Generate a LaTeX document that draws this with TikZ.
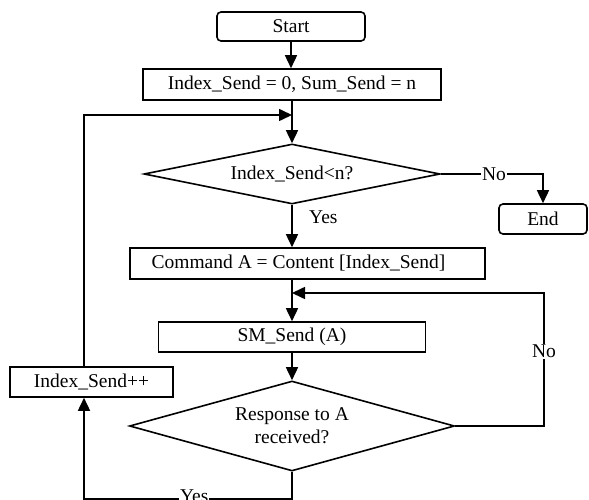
\documentclass[tikz,border=0pt]{standalone}
\usepackage{fontspec}
\setmainfont{Liberation Serif}
\usetikzlibrary{shapes.geometric,arrows.meta}
\begin{document}
\begin{tikzpicture}[x=1pt,y=-1pt,
  every node/.style={font=\fontsize{19.5}{23}\selectfont},
  proc/.style={draw,line width=1.6pt,rectangle,inner sep=0pt},
  term/.style={draw,line width=1.6pt,rectangle,rounded corners=4pt,inner sep=0pt},
  dec/.style={draw,line width=1.6pt,diamond,inner sep=0pt,align=center},
  conn/.style={line width=1.6pt},
  arr/.style={conn,-{Triangle[length=13pt,width=12pt]}},
  lbl/.style={fill=white,inner sep=1pt}]
\useasboundingbox (0,0) rectangle (589,500);
\node[term,minimum width=148pt,minimum height=29pt] (start) at (291,26.5) {Start};
\node[proc,minimum width=298pt,minimum height=31pt] (init) at (292,84.5) {Index\_Send = 0, Sum\_Send = n};
\node[dec,minimum width=296pt,minimum height=60pt,shape aspect=5] (d1) at (292,174) {Index\_Send<n?};
\node[term,minimum width=88pt,minimum height=30pt] (end) at (543,219) {End};
\node[proc,minimum width=355pt,minimum height=31pt] (cmd) at (307.5,263.5) {Command A = Content [Index\_Send]\hspace*{18pt}};
\node[proc,minimum width=267pt,minimum height=30pt] (sm) at (292,337) {SM\_Send (A)};
\node[dec,minimum width=325pt,minimum height=90pt,shape aspect=3.6] (d2) at (292,426) {Response to A\\received?};
\node[proc,minimum width=163pt,minimum height=30pt] (incr) at (91.5,382) {Index\_Send++};
\coordinate (lx) at (84,0);
\coordinate (j1) at (292,115);
\coordinate (j2) at (292,293);
\coordinate (r2) at (544,426);
\coordinate (b2) at (292,499);
% main flow
\draw[arr] (start.south) -- (start.south |- init.north);
\draw[arr] (init.south) -- (d1.north);
\draw[arr] (d1.east) -| node[lbl,pos=0.26]{No} (end.north);
\draw[arr] (d1.south) -- node[pos=0.3,anchor=west,xshift=13pt]{Yes} (d1.south |- cmd.north);
\draw[arr] (sm.north |- cmd.south) -- (sm.north);
\draw[arr] (sm.south) -- (d2.north);
% No loop
\draw[arr] (d2.east) -- (r2) -- node[lbl,pos=0.56]{No} (r2 |- j2) -- (j2);
% Yes loop
\draw[arr] (d2.south) -- (b2) -- node[lbl,pos=0.47,yshift=3pt]{Yes} (b2 -| lx) -- (incr.south -| lx);
\draw[arr] (incr.north -| lx) |- (j1);
\end{tikzpicture}
\end{document}
